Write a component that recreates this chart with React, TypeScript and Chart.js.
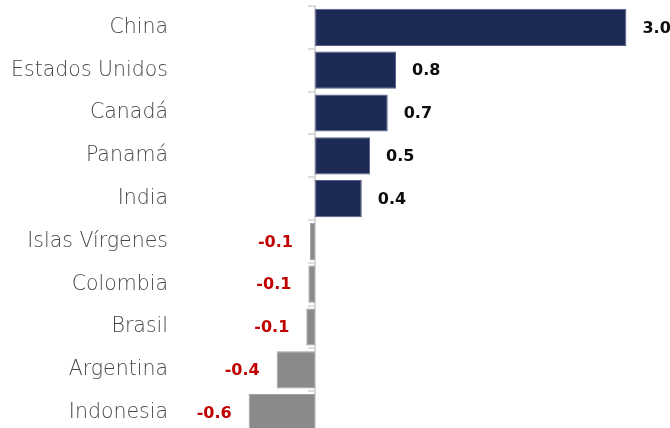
import React, { useEffect, useRef } from "react";
import { Chart, registerables } from "chart.js";

Chart.register(...registerables);

const categories = [
  "China",
  "Estados Unidos",
  "Canadá",
  "Panamá",
  "India",
  "Islas Vírgenes",
  "Colombia",
  "Brasil",
  "Argentina",
  "Indonesia",
];
const values = [3.0, 0.78, 0.7, 0.53, 0.45, -0.05, -0.065, -0.085, -0.37, -0.64];
const valueLabels = ["3.0", "0.8", "0.7", "0.5", "0.4", "-0.1", "-0.1", "-0.1", "-0.4", "-0.6"];

const NAVY = "#1e2a56";
const GREY = "#8a8a8a";

const labelPlugin = {
  id: "barValueLabels",
  afterDatasetsDraw(chart: any) {
    const ctx = chart.ctx;
    const meta = chart.getDatasetMeta(0);
    const xScale = chart.scales.x;
    ctx.save();
    ctx.font = "bold 16px 'DejaVu Sans', sans-serif";
    ctx.textBaseline = "middle";
    meta.data.forEach((bar: any, i: number) => {
      const v = values[i];
      const px = xScale.getPixelForValue(v);
      if (v >= 0) {
        ctx.fillStyle = "#0d0d0d";
        ctx.textAlign = "left";
        ctx.fillText(valueLabels[i], px + 16, bar.y + 1);
      } else {
        ctx.fillStyle = "#c00000";
        ctx.textAlign = "right";
        ctx.fillText(valueLabels[i], px - 17, bar.y + 1);
      }
    });
    ctx.restore();
  },
};

export default function App() {
  const ref = useRef<HTMLCanvasElement>(null);
  useEffect(() => {
    if (!ref.current) return;
    const chart = new Chart(ref.current, {
      type: "bar",
      data: {
        labels: categories,
        datasets: [
          {
            data: values,
            backgroundColor: values.map((v) => (v >= 0 ? NAVY : GREY)),
            borderColor: values.map((v) => (v >= 0 ? "#56608a" : "#a2a2a2")),
            borderWidth: 1,
            borderSkipped: false,
            categoryPercentage: 1,
            barPercentage: 0.87,
          },
        ],
      },
      options: {
        indexAxis: "y",
        animation: false,
        responsive: false,
        maintainAspectRatio: false,
        layout: { padding: { top: 6, right: 0, bottom: 0, left: 0 } },
        plugins: { legend: { display: false }, tooltip: { enabled: false } },
        scales: {
          x: {
            type: "linear",
            min: -1.35,
            max: 3.42,
            display: false,
          },
          y: {
            type: "category",
            position: "left",
            grid: { display: false, drawTicks: false },
            border: { display: false },
            ticks: {
              color: "#474747",
              padding: 7,
              font: { family: "'DejaVu Sans', sans-serif", size: 20.5, weight: 200 as any, lineHeight: 0.01 },
            },
            afterFit(scale: any) {
              scale.width = 175;
              scale.paddingTop = 0;
              scale.paddingBottom = 0;
            },
          },
          y2: {
            type: "category",
            axis: "y",
            position: { x: 0 } as any,
            offset: true,
            ticks: { display: false },
            grid: {
              drawOnChartArea: false,
              drawTicks: true,
              tickLength: 6,
              color: "#dddddd",
              lineWidth: 2,
              offset: true,
            },
            border: { color: "#d6d6d6", width: 2 },
          },
        },
      },
      plugins: [labelPlugin],
    });
    return () => chart.destroy();
  }, []);
  return (
    <div style={{ position: "absolute", left: 0, top: 0, width: 670, height: 434 }}>
      <canvas ref={ref} width={670} height={434} style={{ display: "block" }} />
    </div>
  );
}
